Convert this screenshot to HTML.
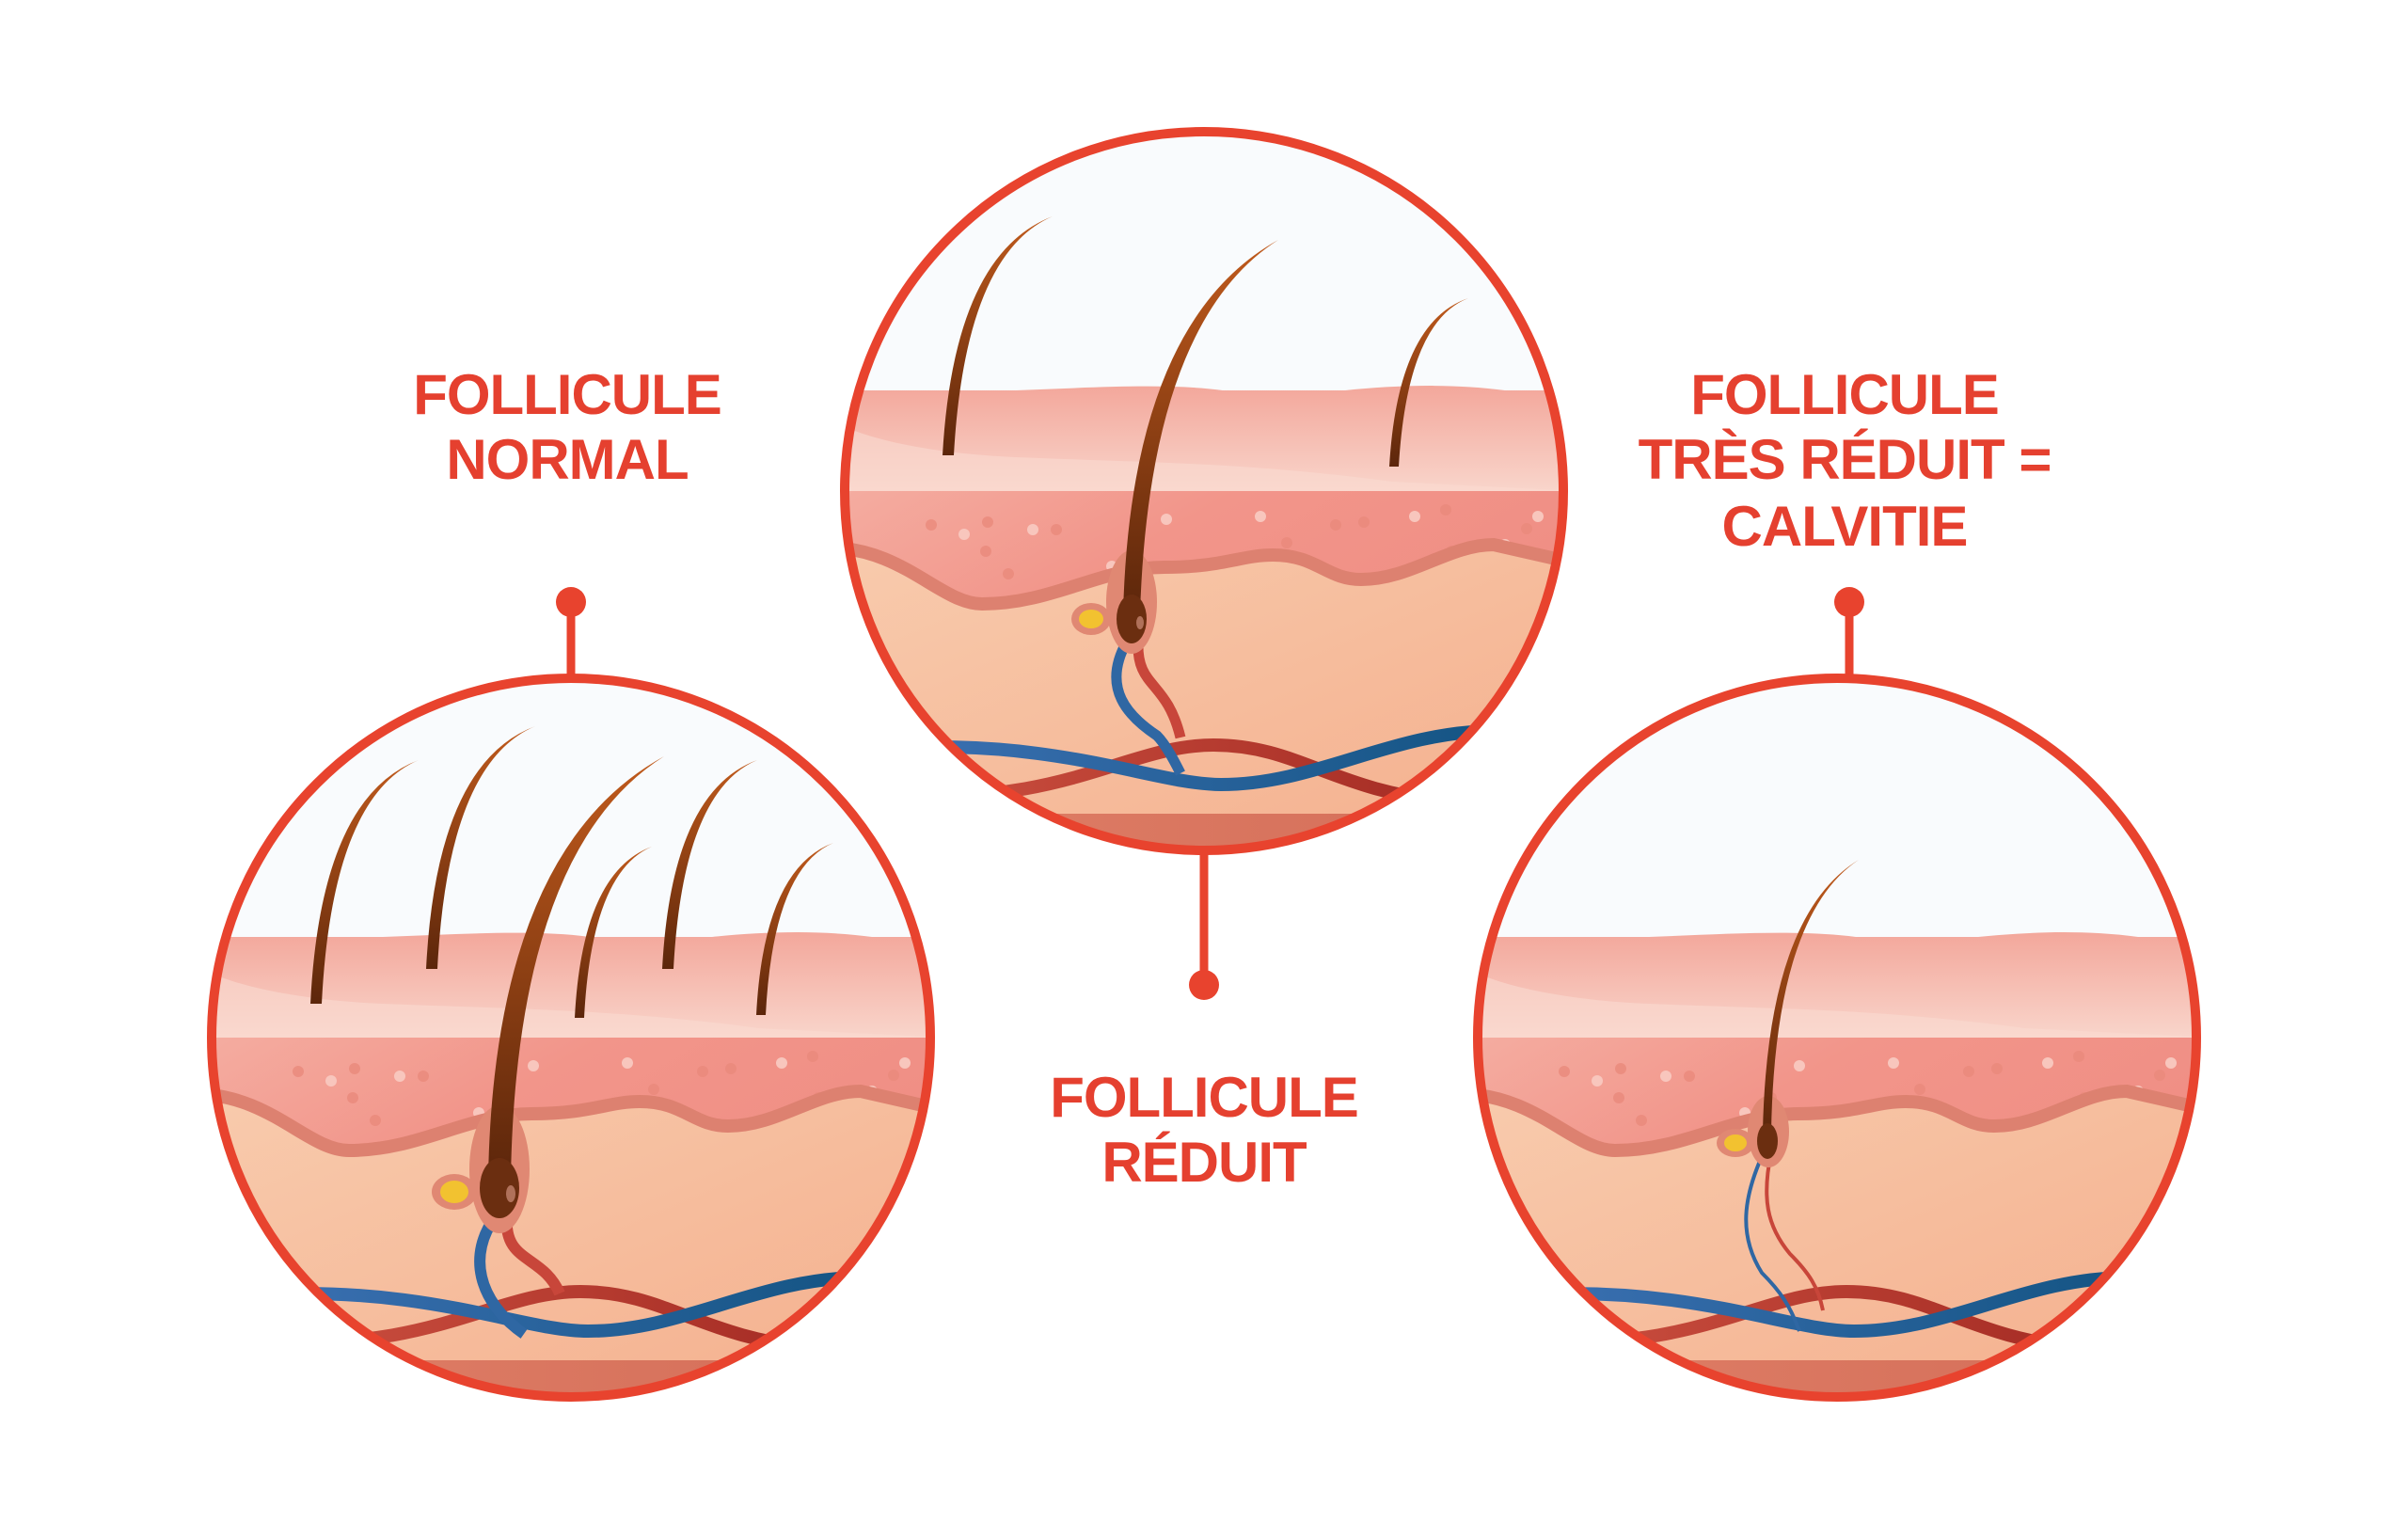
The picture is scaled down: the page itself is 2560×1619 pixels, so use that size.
<!DOCTYPE html>
<html><head><meta charset="utf-8"><style>
html,body{margin:0;padding:0;background:#fff}
svg{display:block}
text{font-family:"Liberation Sans",sans-serif;font-weight:bold;fill:#e5402f;text-anchor:middle}
</style></head><body>
<svg width="2560" height="1619" viewBox="0 0 2560 1619" xmlns="http://www.w3.org/2000/svg">
<defs>
<clipPath id="cc"><circle cx="0" cy="0" r="382"/></clipPath>
<linearGradient id="epi" x1="0" y1="0" x2="0" y2="1"><stop offset="0" stop-color="#f3a79b"/><stop offset="1" stop-color="#f9d7cd"/></linearGradient>
<linearGradient id="der" x1="0" y1="0" x2="1" y2="0.3"><stop offset="0" stop-color="#f4ada1"/><stop offset="0.5" stop-color="#f2958a"/><stop offset="1" stop-color="#f08f85"/></linearGradient>
<linearGradient id="hyp" x1="0" y1="0" x2="1" y2="1"><stop offset="0" stop-color="#f8cbad"/><stop offset="1" stop-color="#f4ae8c"/></linearGradient>
<linearGradient id="bot" x1="0" y1="0" x2="1" y2="0"><stop offset="0" stop-color="#e08068"/><stop offset="1" stop-color="#d36c57"/></linearGradient>
<linearGradient id="hair" x1="0" y1="0" x2="0" y2="1"><stop offset="0" stop-color="#c05a1c"/><stop offset="1" stop-color="#5c260b"/></linearGradient>
<linearGradient id="blue" x1="0" y1="0" x2="1" y2="0"><stop offset="0" stop-color="#3b70b2"/><stop offset="1" stop-color="#145483"/></linearGradient>
<linearGradient id="red" x1="0" y1="0" x2="1" y2="0"><stop offset="0" stop-color="#cc5040"/><stop offset="1" stop-color="#a52c24"/></linearGradient>
<g id="skin">
  <circle r="386" fill="#f9fbfd"/>
  <path d="M-400,-107 L-200,-107 C-120,-110 -40,-115 20,-107 L150,-107 C200,-112 260,-115 320,-107 L400,-107 L400,5 L-400,5 Z" fill="url(#epi)"/>
  <path d="M-400,-80 C-380,-60 -300,-40 -200,-36 C-50,-30 50,-30 200,-10 L400,0 L400,5 L-400,5 Z" fill="#fadad0" opacity="0.6"/>
  <rect x="-400" y="0" width="800" height="140" fill="url(#der)"/>
  <g fill="#ea8a7c" opacity="0.8"><circle cx="-290" cy="36" r="6"/><circle cx="-230" cy="33" r="6"/><circle cx="-232" cy="64" r="6"/><circle cx="-157" cy="41" r="6"/><circle cx="-70" cy="64" r="6"/><circle cx="-208" cy="88" r="6"/><circle cx="88" cy="55" r="6"/><circle cx="140" cy="36" r="6"/><circle cx="170" cy="33" r="6"/><circle cx="257" cy="20" r="6"/><circle cx="263" cy="64" r="6"/><circle cx="343" cy="40" r="6"/></g>
  <g fill="#f8c6bd"><circle cx="-255" cy="46" r="6"/><circle cx="-182" cy="41" r="6"/><circle cx="-98" cy="80" r="6"/><circle cx="-40" cy="30" r="6"/><circle cx="60" cy="27" r="6"/><circle cx="224" cy="27" r="6"/><circle cx="320" cy="57" r="6"/><circle cx="355" cy="27" r="6"/></g>
  <path d="M-400,60 C-320,60 -280,120 -236,120 C-160,120 -110,81 -42,81 C20,81 40,68 73,68 C120,68 130,94 167,94 C220,94 260,57 308,57 L400,78 L400,400 L-400,400 Z" fill="url(#hyp)" stroke="#dd8170" stroke-width="14"/>
  <rect x="-400" y="343" width="800" height="60" fill="url(#bot)"/>
  <path d="M-320,322 C-150,335 -80,270 10,270 C100,270 140,320 260,330" fill="none" stroke="url(#red)" stroke-width="14"/>
  <path d="M-320,273 C-150,265 -50,312 18,312 C120,312 200,255 310,255" fill="none" stroke="url(#blue)" stroke-width="14"/>
</g>
</defs>

<g stroke="#e8432e" stroke-width="9">
  <line x1="607" y1="640" x2="607" y2="720"/>
  <line x1="1280" y1="900" x2="1280" y2="1047"/>
  <line x1="1966" y1="640" x2="1966" y2="720"/>
</g>
<g fill="#e8432e"><circle cx="607" cy="640" r="16"/><circle cx="1280" cy="1047" r="16"/><circle cx="1966" cy="640" r="16"/></g>

<g transform="translate(607,1103)">
  <g clip-path="url(#cc)">
    <use href="#skin"/>
    <g fill="url(#hair)">
      <path d="M-277,-36 Q-266,-256 -162,-295 Q-254,-256 -265,-36 Z"/>
      <path d="M-154,-73 Q-143,-292 -38,-331 Q-131,-292 -142,-73 Z"/>
      <path d="M4,-21 Q12,-176 86,-203 Q22,-176 14,-21 Z"/>
      <path d="M97,-73 Q107,-262 198,-295 Q119,-262 109,-73 Z"/>
      <path d="M197,-24 Q205,-180 279,-207 Q215,-180 207,-24 Z"/>
    </g>
    <path d="M-80,190 C-110,230 -100,280 -50,315" fill="none" stroke="#2f67a3" stroke-width="12"/>
    <path d="M-68,190 C-72,240 -30,230 -12,272" fill="none" stroke="#c8463a" stroke-width="12"/>
    <ellipse cx="-76" cy="140" rx="32" ry="68" fill="#e08873"/>
    <ellipse cx="-124" cy="164" rx="24" ry="19" fill="#e08873"/>
    <ellipse cx="-124" cy="164" rx="15" ry="12" fill="#f2c230"/>
    <path d="M-88,150 Q-82,-200 99,-299 Q-58,-200 -64,150 Z" fill="url(#hair)"/>
    <ellipse cx="-76" cy="160" rx="21" ry="32" fill="#6b2e10"/>
    <ellipse cx="-64" cy="166" rx="5" ry="9" fill="#b0715a"/>
  </g>
  <circle r="382" fill="none" stroke="#e8432e" stroke-width="10"/>
</g>

<g transform="translate(1280,522)">
  <g clip-path="url(#cc)">
    <use href="#skin"/>
    <g fill="url(#hair)">
      <path d="M-278,-38 Q-266,-252 -161,-292 Q-254,-252 -266,-38 Z"/>
      <path d="M197,-26 Q206,-180 281,-205 Q216,-180 207,-26 Z"/>
    </g>
    <path d="M-82,160 C-110,210 -80,240 -50,260 C-40,270 -30,290 -25,300" fill="none" stroke="#2f67a3" stroke-width="11"/>
    <path d="M-70,160 C-72,210 -40,200 -25,262" fill="none" stroke="#c8463a" stroke-width="11"/>
    <ellipse cx="-77" cy="118" rx="27" ry="55" fill="#e08873"/>
    <ellipse cx="-120" cy="136" rx="21" ry="17" fill="#e08873"/>
    <ellipse cx="-120" cy="136" rx="13" ry="10" fill="#f2c230"/>
    <path d="M-86,130 Q-78,-180 79,-267 Q-58,-180 -68,130 Z" fill="url(#hair)"/>
    <ellipse cx="-77" cy="136" rx="16" ry="26" fill="#6b2e10"/>
    <ellipse cx="-68" cy="140" rx="4" ry="7" fill="#b0715a"/>
  </g>
  <circle r="382" fill="none" stroke="#e8432e" stroke-width="10"/>
</g>

<g transform="translate(1953,1103)">
  <g clip-path="url(#cc)">
    <use href="#skin"/>
    <path d="M-78,122 C-100,170 -105,210 -80,250 C-60,270 -50,285 -40,312" fill="none" stroke="#2f67a3" stroke-width="4"/>
    <path d="M-70,122 C-80,170 -75,200 -50,230 C-30,250 -20,265 -15,290" fill="none" stroke="#c8463a" stroke-width="4"/>
    <ellipse cx="-73" cy="100" rx="22" ry="38" fill="#e08873"/>
    <ellipse cx="-108" cy="112" rx="20" ry="15" fill="#e08873"/>
    <ellipse cx="-108" cy="112" rx="12" ry="9" fill="#f2c230"/>
    <path d="M-79,100 Q-74,-130 23,-189 Q-66,-130 -70,100 Z" fill="url(#hair)"/>
    <ellipse cx="-74" cy="110" rx="11" ry="19" fill="#6b2e10"/>
  </g>
  <circle r="382" fill="none" stroke="#e8432e" stroke-width="10"/>
</g>

<g font-size="60" style="letter-spacing:-1px">
  <text x="603" y="440">FOLLICULE</text>
  <text x="603" y="509">NORMAL</text>
  <text x="1280" y="1187">FOLLICULE</text>
  <text x="1280" y="1256">RÉDUIT</text>
  <text x="1961" y="440">FOLLICULE</text>
  <text x="1961" y="509">TRÈS RÉDUIT =</text>
  <text x="1961" y="580">CALVITIE</text>
</g>
</svg>
</body></html>
